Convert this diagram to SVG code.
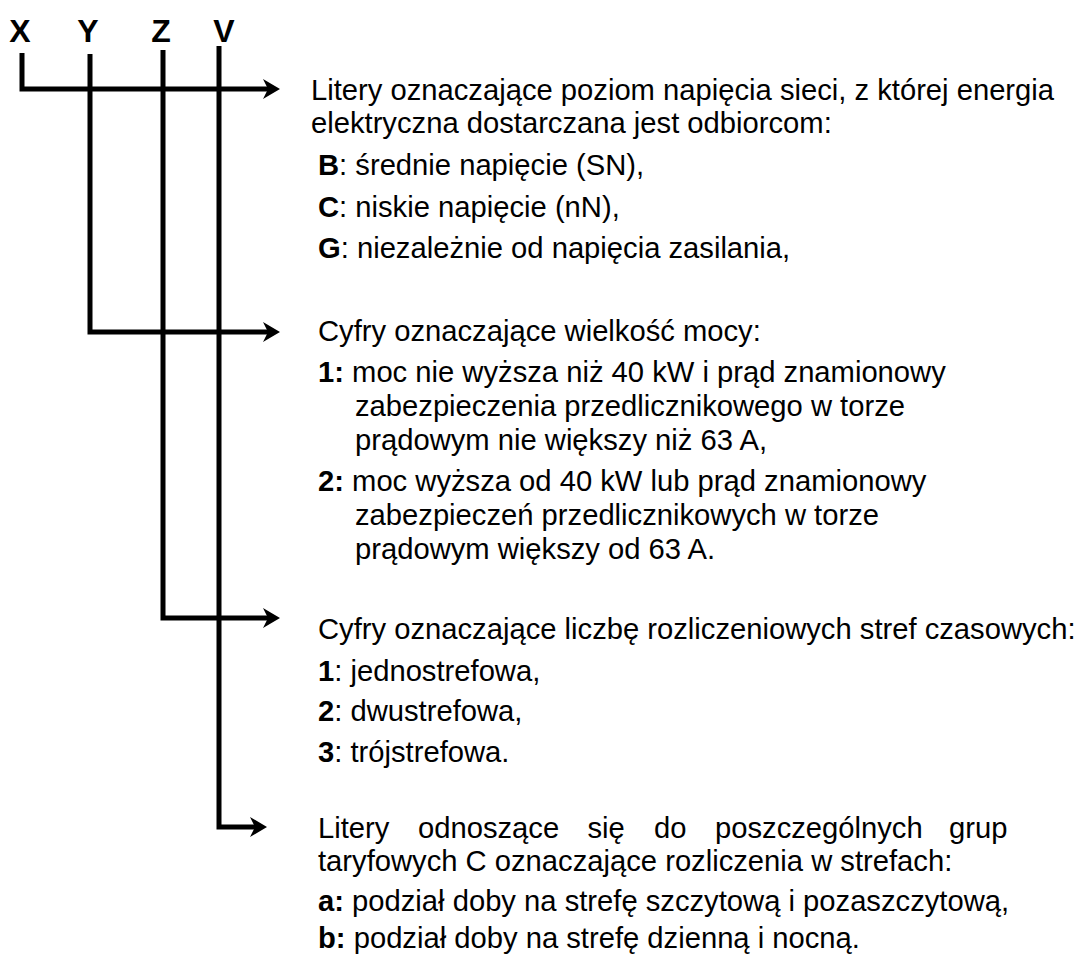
<svg xmlns="http://www.w3.org/2000/svg" width="1080" height="956" viewBox="0 0 1080 956">
<style>
text{font-family:"Liberation Sans",Arial,sans-serif;font-size:29.2px;fill:#000}
.hdr{font-size:32px;font-weight:bold;text-anchor:middle}
.b{font-weight:bold}
.con{fill:none;stroke:#000;stroke-width:5;stroke-linejoin:miter}
</style>
<defs>
<marker id="arr" markerUnits="userSpaceOnUse" markerWidth="17" markerHeight="20" refX="7" refY="10" orient="auto" viewBox="0 0 17 20">
<path d="M0,0 L17,10 L0,20 L5,10 Z" fill="#000"/>
</marker>
</defs>
<rect width="1080" height="956" fill="#fff"/>
<g id="letters">
<text class="hdr" x="20" y="42">X</text>
<text class="hdr" x="88" y="42">Y</text>
<text class="hdr" x="161" y="42">Z</text>
<text class="hdr" x="224" y="42">V</text>
</g>
<g id="connectors">
<path class="con" d="M22,53 V89 H270" marker-end="url(#arr)"/>
<path class="con" d="M90,54 V332 H270" marker-end="url(#arr)"/>
<path class="con" d="M163,50 V618 H270" marker-end="url(#arr)"/>
<path class="con" d="M219,46 V827 H257" marker-end="url(#arr)"/>
</g>
<g id="node-x">
<text x="311" y="100">Litery oznaczające poziom napięcia sieci, z której energia</text>
<text x="311" y="133">elektryczna dostarczana jest odbiorcom:</text>
<text x="318" y="175"><tspan class="b">B</tspan>: średnie napięcie (SN),</text>
<text x="318" y="217"><tspan class="b">C</tspan>: niskie napięcie (nN),</text>
<text x="318" y="258"><tspan class="b">G</tspan>: niezależnie od napięcia zasilania,</text>
</g>
<g id="node-y">
<text x="318" y="341">Cyfry oznaczające wielkość mocy:</text>
<text x="318" y="382"><tspan class="b">1:</tspan> moc nie wyższa niż 40 kW i prąd znamionowy</text>
<text x="355" y="416">zabezpieczenia przedlicznikowego w torze</text>
<text x="355" y="450">prądowym nie większy niż 63 A,</text>
<text x="318" y="491"><tspan class="b">2:</tspan> moc wyższa od 40 kW lub prąd znamionowy</text>
<text x="355" y="525">zabezpieczeń przedlicznikowych w torze</text>
<text x="355" y="559">prądowym większy od 63 A.</text>
</g>
<g id="node-z">
<text x="318" y="639">Cyfry oznaczające liczbę rozliczeniowych stref czasowych:</text>
<text x="318" y="681"><tspan class="b">1</tspan>: jednostrefowa,</text>
<text x="318" y="721"><tspan class="b">2</tspan>: dwustrefowa,</text>
<text x="318" y="762"><tspan class="b">3</tspan>: trójstrefowa.</text>
</g>
<g id="node-v">
<text y="838"><tspan x="318">Litery</tspan><tspan x="418">odnoszące</tspan><tspan x="587.5">się</tspan><tspan x="654">do</tspan><tspan x="715">poszczególnych</tspan><tspan x="949">grup</tspan></text>
<text x="318" y="871">taryfowych C oznaczające rozliczenia w strefach:</text>
<text x="318" y="911"><tspan class="b">a:</tspan> podział doby na strefę szczytową i pozaszczytową,</text>
<text x="318" y="948"><tspan class="b">b:</tspan> podział doby na strefę dzienną i nocną.</text>
</g>
</svg>
